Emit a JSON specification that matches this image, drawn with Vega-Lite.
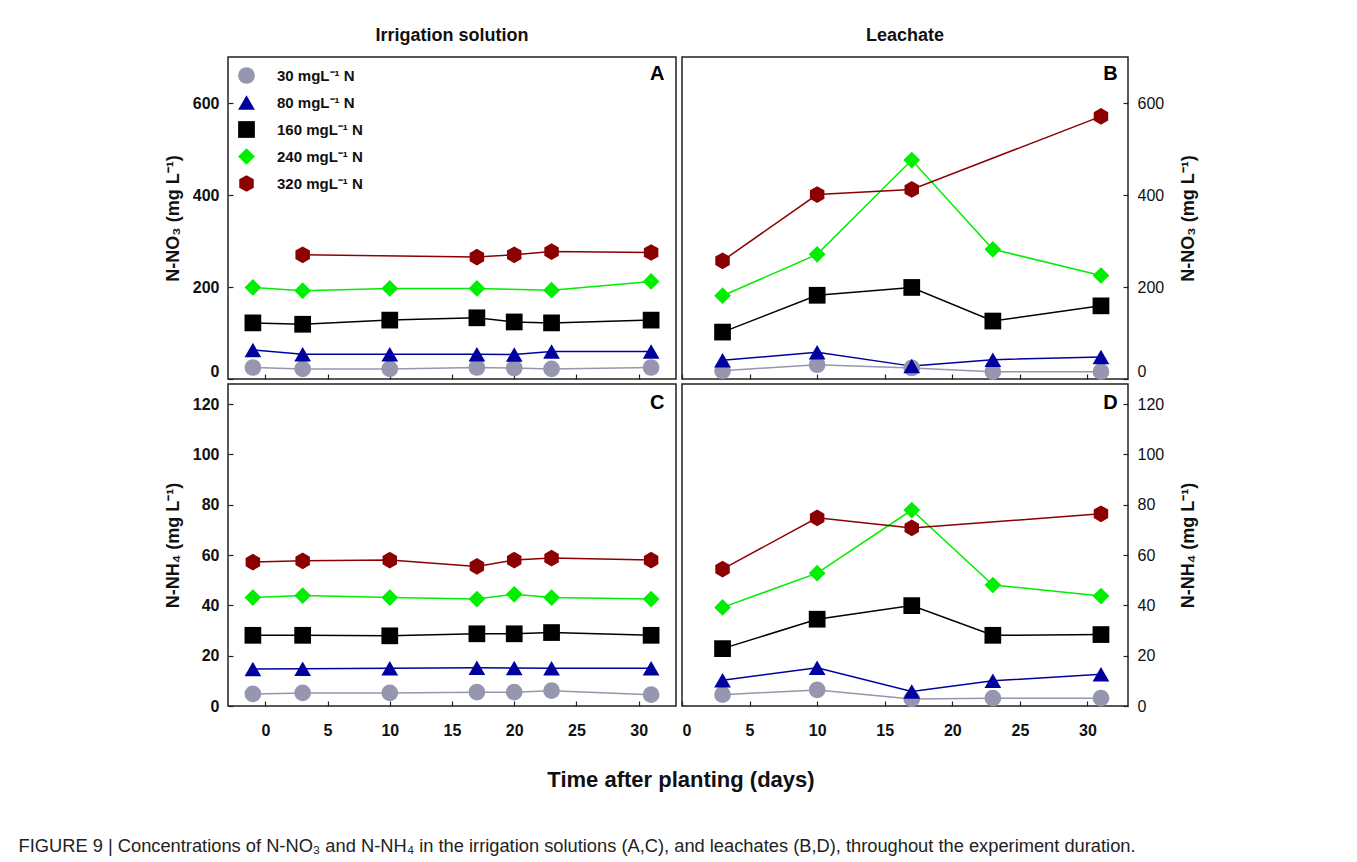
{
  "$schema": "https://vega.github.io/schema/vega-lite/v6.json",
  "padding": {"left": 18, "top": 26, "right": 5, "bottom": 5},
  "background": "white",
  "datasets": {
    "rows": [
      {"panel": "A", "series": "30 mgL⁻¹ N", "day": -1, "value": 25},
      {"panel": "A", "series": "30 mgL⁻¹ N", "day": 3, "value": 22},
      {"panel": "A", "series": "30 mgL⁻¹ N", "day": 10, "value": 22},
      {"panel": "A", "series": "30 mgL⁻¹ N", "day": 17, "value": 25},
      {"panel": "A", "series": "30 mgL⁻¹ N", "day": 20, "value": 24},
      {"panel": "A", "series": "30 mgL⁻¹ N", "day": 23, "value": 22},
      {"panel": "A", "series": "30 mgL⁻¹ N", "day": 31, "value": 25},
      {"panel": "A", "series": "80 mgL⁻¹ N", "day": -1, "value": 63},
      {"panel": "A", "series": "80 mgL⁻¹ N", "day": 3, "value": 54},
      {"panel": "A", "series": "80 mgL⁻¹ N", "day": 10, "value": 54},
      {"panel": "A", "series": "80 mgL⁻¹ N", "day": 17, "value": 54},
      {"panel": "A", "series": "80 mgL⁻¹ N", "day": 20, "value": 53},
      {"panel": "A", "series": "80 mgL⁻¹ N", "day": 23, "value": 60},
      {"panel": "A", "series": "80 mgL⁻¹ N", "day": 31, "value": 60},
      {"panel": "A", "series": "160 mgL⁻¹ N", "day": -1, "value": 122},
      {"panel": "A", "series": "160 mgL⁻¹ N", "day": 3, "value": 119},
      {"panel": "A", "series": "160 mgL⁻¹ N", "day": 10, "value": 128},
      {"panel": "A", "series": "160 mgL⁻¹ N", "day": 17, "value": 133},
      {"panel": "A", "series": "160 mgL⁻¹ N", "day": 20, "value": 124},
      {"panel": "A", "series": "160 mgL⁻¹ N", "day": 23, "value": 122},
      {"panel": "A", "series": "160 mgL⁻¹ N", "day": 31, "value": 128},
      {"panel": "A", "series": "240 mgL⁻¹ N", "day": -1, "value": 199},
      {"panel": "A", "series": "240 mgL⁻¹ N", "day": 3, "value": 192},
      {"panel": "A", "series": "240 mgL⁻¹ N", "day": 10, "value": 197},
      {"panel": "A", "series": "240 mgL⁻¹ N", "day": 17, "value": 197},
      {"panel": "A", "series": "240 mgL⁻¹ N", "day": 23, "value": 193},
      {"panel": "A", "series": "240 mgL⁻¹ N", "day": 31, "value": 212},
      {"panel": "A", "series": "320 mgL⁻¹ N", "day": 3, "value": 270},
      {"panel": "A", "series": "320 mgL⁻¹ N", "day": 17, "value": 265},
      {"panel": "A", "series": "320 mgL⁻¹ N", "day": 20, "value": 270},
      {"panel": "A", "series": "320 mgL⁻¹ N", "day": 23, "value": 277},
      {"panel": "A", "series": "320 mgL⁻¹ N", "day": 31, "value": 275},

      {"panel": "B", "series": "30 mgL⁻¹ N", "day": 3, "value": 18},
      {"panel": "B", "series": "30 mgL⁻¹ N", "day": 10, "value": 31},
      {"panel": "B", "series": "30 mgL⁻¹ N", "day": 17, "value": 24},
      {"panel": "B", "series": "30 mgL⁻¹ N", "day": 23, "value": 16},
      {"panel": "B", "series": "30 mgL⁻¹ N", "day": 31, "value": 16},
      {"panel": "B", "series": "80 mgL⁻¹ N", "day": 3, "value": 41},
      {"panel": "B", "series": "80 mgL⁻¹ N", "day": 10, "value": 58},
      {"panel": "B", "series": "80 mgL⁻¹ N", "day": 17, "value": 28},
      {"panel": "B", "series": "80 mgL⁻¹ N", "day": 23, "value": 42},
      {"panel": "B", "series": "80 mgL⁻¹ N", "day": 31, "value": 48},
      {"panel": "B", "series": "160 mgL⁻¹ N", "day": 3, "value": 102},
      {"panel": "B", "series": "160 mgL⁻¹ N", "day": 10, "value": 182},
      {"panel": "B", "series": "160 mgL⁻¹ N", "day": 17, "value": 199},
      {"panel": "B", "series": "160 mgL⁻¹ N", "day": 23, "value": 126},
      {"panel": "B", "series": "160 mgL⁻¹ N", "day": 31, "value": 159},
      {"panel": "B", "series": "240 mgL⁻¹ N", "day": 3, "value": 181},
      {"panel": "B", "series": "240 mgL⁻¹ N", "day": 10, "value": 271},
      {"panel": "B", "series": "240 mgL⁻¹ N", "day": 17, "value": 476},
      {"panel": "B", "series": "240 mgL⁻¹ N", "day": 23, "value": 282},
      {"panel": "B", "series": "240 mgL⁻¹ N", "day": 31, "value": 225},
      {"panel": "B", "series": "320 mgL⁻¹ N", "day": 3, "value": 257},
      {"panel": "B", "series": "320 mgL⁻¹ N", "day": 10, "value": 401},
      {"panel": "B", "series": "320 mgL⁻¹ N", "day": 17, "value": 412},
      {"panel": "B", "series": "320 mgL⁻¹ N", "day": 31, "value": 571},

      {"panel": "C", "series": "30 mgL⁻¹ N", "day": -1, "value": 4.8},
      {"panel": "C", "series": "30 mgL⁻¹ N", "day": 3, "value": 5.2},
      {"panel": "C", "series": "30 mgL⁻¹ N", "day": 10, "value": 5.2},
      {"panel": "C", "series": "30 mgL⁻¹ N", "day": 17, "value": 5.5},
      {"panel": "C", "series": "30 mgL⁻¹ N", "day": 20, "value": 5.5},
      {"panel": "C", "series": "30 mgL⁻¹ N", "day": 23, "value": 6.1},
      {"panel": "C", "series": "30 mgL⁻¹ N", "day": 31, "value": 4.5},
      {"panel": "C", "series": "80 mgL⁻¹ N", "day": -1, "value": 14.7},
      {"panel": "C", "series": "80 mgL⁻¹ N", "day": 3, "value": 14.8},
      {"panel": "C", "series": "80 mgL⁻¹ N", "day": 10, "value": 15},
      {"panel": "C", "series": "80 mgL⁻¹ N", "day": 17, "value": 15.2},
      {"panel": "C", "series": "80 mgL⁻¹ N", "day": 20, "value": 15.1},
      {"panel": "C", "series": "80 mgL⁻¹ N", "day": 23, "value": 15},
      {"panel": "C", "series": "80 mgL⁻¹ N", "day": 31, "value": 15},
      {"panel": "C", "series": "160 mgL⁻¹ N", "day": -1, "value": 28.1},
      {"panel": "C", "series": "160 mgL⁻¹ N", "day": 3, "value": 28.1},
      {"panel": "C", "series": "160 mgL⁻¹ N", "day": 10, "value": 27.9},
      {"panel": "C", "series": "160 mgL⁻¹ N", "day": 17, "value": 28.7},
      {"panel": "C", "series": "160 mgL⁻¹ N", "day": 20, "value": 28.7},
      {"panel": "C", "series": "160 mgL⁻¹ N", "day": 23, "value": 29.2},
      {"panel": "C", "series": "160 mgL⁻¹ N", "day": 31, "value": 28.1},
      {"panel": "C", "series": "240 mgL⁻¹ N", "day": -1, "value": 43.1},
      {"panel": "C", "series": "240 mgL⁻¹ N", "day": 3, "value": 43.9},
      {"panel": "C", "series": "240 mgL⁻¹ N", "day": 10, "value": 43.1},
      {"panel": "C", "series": "240 mgL⁻¹ N", "day": 17, "value": 42.5},
      {"panel": "C", "series": "240 mgL⁻¹ N", "day": 20, "value": 44.4},
      {"panel": "C", "series": "240 mgL⁻¹ N", "day": 23, "value": 43.1},
      {"panel": "C", "series": "240 mgL⁻¹ N", "day": 31, "value": 42.5},
      {"panel": "C", "series": "320 mgL⁻¹ N", "day": -1, "value": 57.2},
      {"panel": "C", "series": "320 mgL⁻¹ N", "day": 3, "value": 57.7},
      {"panel": "C", "series": "320 mgL⁻¹ N", "day": 10, "value": 58},
      {"panel": "C", "series": "320 mgL⁻¹ N", "day": 17, "value": 55.5},
      {"panel": "C", "series": "320 mgL⁻¹ N", "day": 20, "value": 58},
      {"panel": "C", "series": "320 mgL⁻¹ N", "day": 23, "value": 58.8},
      {"panel": "C", "series": "320 mgL⁻¹ N", "day": 31, "value": 58},

      {"panel": "D", "series": "30 mgL⁻¹ N", "day": 3, "value": 4.5},
      {"panel": "D", "series": "30 mgL⁻¹ N", "day": 10, "value": 6.4},
      {"panel": "D", "series": "30 mgL⁻¹ N", "day": 17, "value": 2.8},
      {"panel": "D", "series": "30 mgL⁻¹ N", "day": 23, "value": 3.1},
      {"panel": "D", "series": "30 mgL⁻¹ N", "day": 31, "value": 3.1},
      {"panel": "D", "series": "80 mgL⁻¹ N", "day": 3, "value": 10.2},
      {"panel": "D", "series": "80 mgL⁻¹ N", "day": 10, "value": 15.2},
      {"panel": "D", "series": "80 mgL⁻¹ N", "day": 17, "value": 5.8},
      {"panel": "D", "series": "80 mgL⁻¹ N", "day": 23, "value": 10},
      {"panel": "D", "series": "80 mgL⁻¹ N", "day": 31, "value": 12.6},
      {"panel": "D", "series": "160 mgL⁻¹ N", "day": 3, "value": 22.8},
      {"panel": "D", "series": "160 mgL⁻¹ N", "day": 10, "value": 34.5},
      {"panel": "D", "series": "160 mgL⁻¹ N", "day": 17, "value": 39.9},
      {"panel": "D", "series": "160 mgL⁻¹ N", "day": 23, "value": 28.1},
      {"panel": "D", "series": "160 mgL⁻¹ N", "day": 31, "value": 28.4},
      {"panel": "D", "series": "240 mgL⁻¹ N", "day": 3, "value": 39.2},
      {"panel": "D", "series": "240 mgL⁻¹ N", "day": 10, "value": 52.8},
      {"panel": "D", "series": "240 mgL⁻¹ N", "day": 17, "value": 77.9},
      {"panel": "D", "series": "240 mgL⁻¹ N", "day": 23, "value": 48.1},
      {"panel": "D", "series": "240 mgL⁻¹ N", "day": 31, "value": 43.7},
      {"panel": "D", "series": "320 mgL⁻¹ N", "day": 3, "value": 54.4},
      {"panel": "D", "series": "320 mgL⁻¹ N", "day": 10, "value": 74.8},
      {"panel": "D", "series": "320 mgL⁻¹ N", "day": 17, "value": 70.8},
      {"panel": "D", "series": "320 mgL⁻¹ N", "day": 31, "value": 76.4}
    ]
  },
  "title": {
    "text": "FIGURE 9 | Concentrations of N-NO₃ and N-NH₄ in the irrigation solutions (A,C), and leachates (B,D), throughout the experiment duration.",
    "orient": "bottom",
    "anchor": "start",
    "dx": -145,
    "offset": 47,
    "fontSize": 18.3,
    "fontWeight": "normal",
    "font": "Liberation Sans",
    "color": "#222"
  },
  "vconcat": [
    {
      "spacing": 3,
      "hconcat": [
        {
          "width": 448, "height": 322,
          "title": {"text": "Irrigation solution", "fontSize": 18, "fontWeight": "bold", "offset": 12},
          "data": {"name": "rows"},
          "transform": [{"filter": "datum.panel === 'A'"}],
          "layer": [
            {
              "mark": {"type": "line", "strokeWidth": 1.5},
              "encoding": {
                "x": {"field": "day", "type": "quantitative", "scale": {"domain": [-3, 33], "nice": false, "zero": false}, "axis": {"title": null, "labels": false, "labelPadding": 0, "values": [0, 5, 10, 15, 20, 25, 30]}},
                "y": {"field": "value", "type": "quantitative", "scale": {"domain": [0, 700], "nice": false}, "axis": {"title": "N-NO₃ (mg L⁻¹)", "values": [0, 200, 400, 600], "orient": "left", "labelFlush": 2}},
                "color": {"field": "series", "type": "nominal", "scale": {"domain": ["30 mgL⁻¹ N", "80 mgL⁻¹ N", "160 mgL⁻¹ N", "240 mgL⁻¹ N", "320 mgL⁻¹ N"]}}
              }
            },
            {
              "mark": {"type": "point", "filled": true, "opacity": 1, "size": 280},
              "encoding": {
                "x": {"field": "day", "type": "quantitative"},
                "y": {"field": "value", "type": "quantitative"},
                "color": {"field": "series", "type": "nominal", "scale": {"domain": ["30 mgL⁻¹ N", "80 mgL⁻¹ N", "160 mgL⁻¹ N", "240 mgL⁻¹ N", "320 mgL⁻¹ N"]}, "legend": {"orient": "none", "legendX": 10, "legendY": 10, "title": null}},
                "shape": {"field": "series", "type": "nominal", "scale": {"domain": ["30 mgL⁻¹ N", "80 mgL⁻¹ N", "160 mgL⁻¹ N", "240 mgL⁻¹ N", "320 mgL⁻¹ N"]}, "legend": {"orient": "none", "legendX": 10, "legendY": 10, "title": null}}
              }
            },
            {
              "data": {"values": [{}]},
              "mark": {"type": "text", "fontSize": 20, "fontWeight": "bold", "align": "center", "baseline": "middle"},
              "encoding": {"x": {"datum": 31.5}, "y": {"datum": 664}, "text": {"value": "A"}}
            }
          ]
        },
        {
          "width": 446, "height": 322,
          "title": {"text": "Leachate", "fontSize": 18, "fontWeight": "bold", "offset": 12},
          "data": {"name": "rows"},
          "transform": [{"filter": "datum.panel === 'B'"}],
          "layer": [
            {
              "mark": {"type": "line", "strokeWidth": 1.5},
              "encoding": {
                "x": {"field": "day", "type": "quantitative", "scale": {"domain": [0, 33], "nice": false, "zero": false}, "axis": {"title": null, "labels": false, "labelPadding": 0, "values": [0, 5, 10, 15, 20, 25, 30]}},
                "y": {"field": "value", "type": "quantitative", "scale": {"domain": [0, 700], "nice": false}, "axis": {"title": "N-NO₃ (mg L⁻¹)", "values": [0, 200, 400, 600], "orient": "right", "labelFlush": 2, "labelFontWeight": "normal", "titleAngle": -90, "titleBaseline": "top", "titlePadding": 16}},
                "color": {"field": "series", "type": "nominal", "scale": {"domain": ["30 mgL⁻¹ N", "80 mgL⁻¹ N", "160 mgL⁻¹ N", "240 mgL⁻¹ N", "320 mgL⁻¹ N"]}}
              }
            },
            {
              "mark": {"type": "point", "filled": true, "opacity": 1, "size": 280},
              "encoding": {
                "x": {"field": "day", "type": "quantitative"},
                "y": {"field": "value", "type": "quantitative"},
                "color": {"field": "series", "type": "nominal", "scale": {"domain": ["30 mgL⁻¹ N", "80 mgL⁻¹ N", "160 mgL⁻¹ N", "240 mgL⁻¹ N", "320 mgL⁻¹ N"]}},
                "shape": {"field": "series", "type": "nominal", "scale": {"domain": ["30 mgL⁻¹ N", "80 mgL⁻¹ N", "160 mgL⁻¹ N", "240 mgL⁻¹ N", "320 mgL⁻¹ N"]}}
              }
            },
            {
              "data": {"values": [{}]},
              "mark": {"type": "text", "fontSize": 20, "fontWeight": "bold", "align": "center", "baseline": "middle"},
              "encoding": {"x": {"datum": 31.7}, "y": {"datum": 664}, "text": {"value": "B"}}
            }
          ]
        }
      ]
    },
    {
      "spacing": 3,
      "title": {"text": "Time after planting (days)", "orient": "bottom", "anchor": "middle", "fontSize": 22, "fontWeight": "bold", "offset": 31},
      "hconcat": [
        {
          "width": 448, "height": 322,
          "data": {"name": "rows"},
          "transform": [{"filter": "datum.panel === 'C'"}],
          "layer": [
            {
              "mark": {"type": "line", "strokeWidth": 1.5},
              "encoding": {
                "x": {"field": "day", "type": "quantitative", "scale": {"domain": [-3, 33], "nice": false, "zero": false}, "axis": {"title": null, "labelPadding": 21, "values": [0, 5, 10, 15, 20, 25, 30]}},
                "y": {"field": "value", "type": "quantitative", "scale": {"domain": [0, 128], "nice": false}, "axis": {"title": "N-NH₄ (mg L⁻¹)", "values": [0, 20, 40, 60, 80, 100, 120], "orient": "left"}},
                "color": {"field": "series", "type": "nominal", "scale": {"domain": ["30 mgL⁻¹ N", "80 mgL⁻¹ N", "160 mgL⁻¹ N", "240 mgL⁻¹ N", "320 mgL⁻¹ N"]}}
              }
            },
            {
              "mark": {"type": "point", "filled": true, "opacity": 1, "size": 280},
              "encoding": {
                "x": {"field": "day", "type": "quantitative"},
                "y": {"field": "value", "type": "quantitative"},
                "color": {"field": "series", "type": "nominal", "scale": {"domain": ["30 mgL⁻¹ N", "80 mgL⁻¹ N", "160 mgL⁻¹ N", "240 mgL⁻¹ N", "320 mgL⁻¹ N"]}},
                "shape": {"field": "series", "type": "nominal", "scale": {"domain": ["30 mgL⁻¹ N", "80 mgL⁻¹ N", "160 mgL⁻¹ N", "240 mgL⁻¹ N", "320 mgL⁻¹ N"]}}
              }
            },
            {
              "data": {"values": [{}]},
              "mark": {"type": "text", "fontSize": 20, "fontWeight": "bold", "align": "center", "baseline": "middle"},
              "encoding": {"x": {"datum": 31.5}, "y": {"datum": 120.5}, "text": {"value": "C"}}
            }
          ]
        },
        {
          "width": 446, "height": 322,
          "data": {"name": "rows"},
          "transform": [{"filter": "datum.panel === 'D'"}],
          "layer": [
            {
              "mark": {"type": "line", "strokeWidth": 1.5},
              "encoding": {
                "x": {"field": "day", "type": "quantitative", "scale": {"domain": [0, 33], "nice": false, "zero": false}, "axis": {"title": null, "labelPadding": 21, "values": [0, 5, 10, 15, 20, 25, 30]}},
                "y": {"field": "value", "type": "quantitative", "scale": {"domain": [0, 128], "nice": false}, "axis": {"title": "N-NH₄ (mg L⁻¹)", "values": [0, 20, 40, 60, 80, 100, 120], "orient": "right", "labelFontWeight": "normal", "titleAngle": -90, "titleBaseline": "top", "titlePadding": 16}},
                "color": {"field": "series", "type": "nominal", "scale": {"domain": ["30 mgL⁻¹ N", "80 mgL⁻¹ N", "160 mgL⁻¹ N", "240 mgL⁻¹ N", "320 mgL⁻¹ N"]}}
              }
            },
            {
              "mark": {"type": "point", "filled": true, "opacity": 1, "size": 280},
              "encoding": {
                "x": {"field": "day", "type": "quantitative"},
                "y": {"field": "value", "type": "quantitative"},
                "color": {"field": "series", "type": "nominal", "scale": {"domain": ["30 mgL⁻¹ N", "80 mgL⁻¹ N", "160 mgL⁻¹ N", "240 mgL⁻¹ N", "320 mgL⁻¹ N"]}},
                "shape": {"field": "series", "type": "nominal", "scale": {"domain": ["30 mgL⁻¹ N", "80 mgL⁻¹ N", "160 mgL⁻¹ N", "240 mgL⁻¹ N", "320 mgL⁻¹ N"]}}
              }
            },
            {
              "data": {"values": [{}]},
              "mark": {"type": "text", "fontSize": 20, "fontWeight": "bold", "align": "center", "baseline": "middle"},
              "encoding": {"x": {"datum": 31.7}, "y": {"datum": 120.5}, "text": {"value": "D"}}
            }
          ]
        }
      ]
    }
  ],
  "spacing": 2,
  "config": {
    "font": "Liberation Sans",
    "view": {"stroke": "#222", "strokeWidth": 1.5},
    "axis": {
      "grid": false,
      "domain": false,
      "ticks": true,
      "tickColor": "#222",
      "tickSize": -5,
      "tickWidth": 1.2,
      "labelColor": "#111",
      "labelFont": "Liberation Sans",
      "labelFontSize": 16,
      "labelFontWeight": "bold",
      "labelPadding": 14,
      "titleColor": "#111",
      "titleFont": "Liberation Sans",
      "titleFontSize": 18,
      "titleFontWeight": "bold",
      "titlePadding": 10
    },
    "legend": {
      "labelFont": "Liberation Sans",
      "labelFontSize": 15,
      "labelFontWeight": "bold",
      "labelColor": "#111",
      "symbolSize": 280,
      "symbolStrokeWidth": 0,
      "rowPadding": 10,
      "labelOffset": 22
    },
    "range": {
      "category": ["#9696ae", "#00009e", "#000000", "#00ee00", "#8b0000"],
      "symbol": ["circle", "triangle-up", "square", "diamond", "M0,-1L0.866,-0.5L0.866,0.5L0,1L-0.866,0.5L-0.866,-0.5Z"]
    },
    "title": {"color": "#111"}
  }
}
